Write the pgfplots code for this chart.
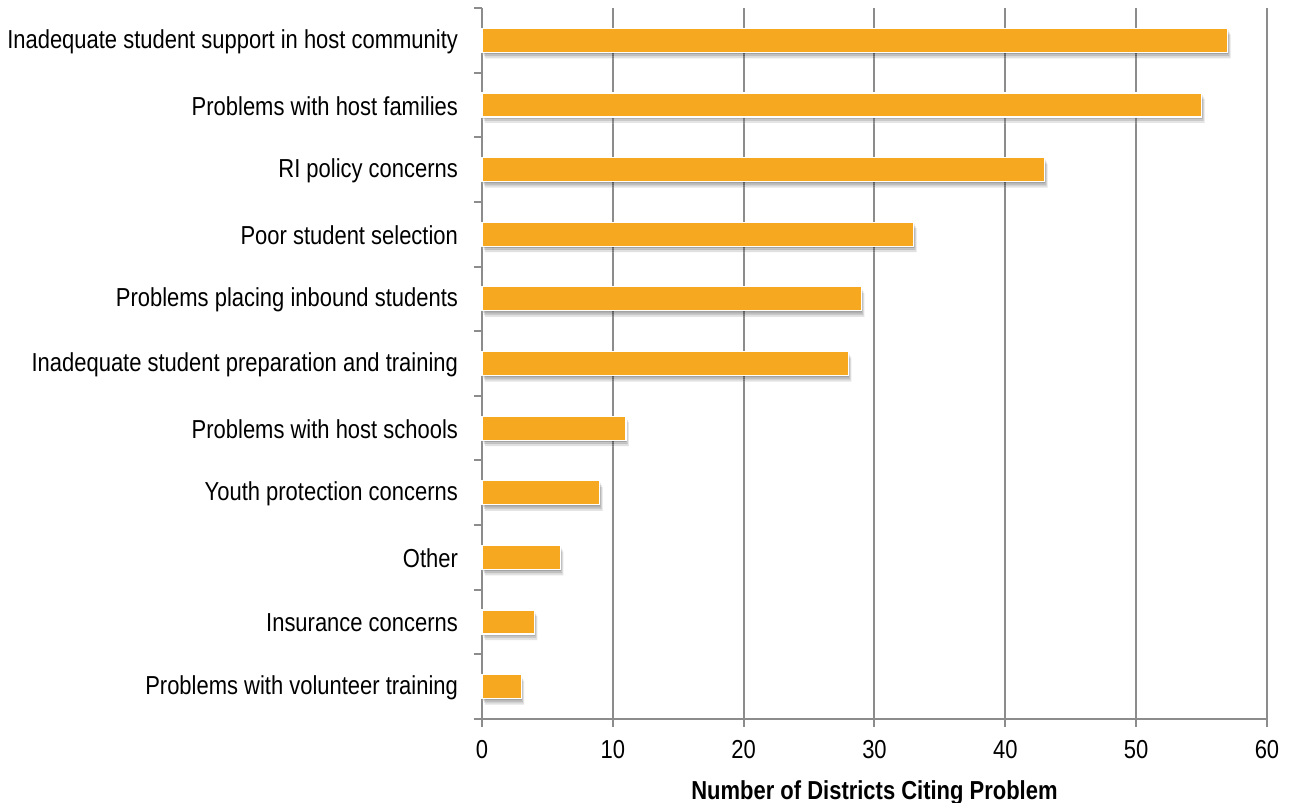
\documentclass[border=0pt]{standalone}
\usepackage{pgfplots}
\pgfplotsset{compat=1.18}
\usepackage{fontspec}
\setmainfont[FakeStretch=0.845]{Liberation Sans}
\usetikzlibrary{shadows}
\definecolor{barorange}{RGB}{245,168,32}
\definecolor{gridgray}{RGB}{140,140,140}
\begin{document}
\begin{tikzpicture}
\begin{axis}[
  at={(0,0)}, anchor=south west,
  scale only axis,
  width=392.5pt, height=355.5pt,
  xmin=0, xmax=60,
  ymin=-0.5, ymax=10.5,
  y dir=reverse,
  xbar, bar width=12pt,
  axis x line*=bottom, axis y line*=left,
  axis line style={gridgray, line width=1pt},
  xtick={0,10,...,60},
  xmajorgrids, grid style={gridgray, line width=1pt},
  tick align=outside,
  major tick length=4pt,
  xtick style={gridgray, line width=1pt},
  ytick={0,...,10},
  yticklabels={Inadequate student support in host community,
    Problems with host families,
    RI policy concerns,
    Poor student selection,
    Problems placing inbound students,
    Inadequate student preparation and training,
    Problems with host schools,
    Youth protection concerns,
    Other,
    Insurance concerns,
    Problems with volunteer training},
  ytick style={draw=none},
  extra y ticks={-0.5,0.5,...,10.5},
  extra y tick labels={},
  extra y tick style={ytick style={draw=gridgray, line width=1pt}},
  tick label style={font=\fontsize{13}{15}\selectfont},
  yticklabel style={xshift=-4.5pt, yshift=-0.5pt},
  xticklabel style={yshift=-3pt},
  /pgf/number format/assume math mode=true,
  xlabel={\textbf{Number of Districts Citing Problem}},
  xlabel style={font=\fontsize{13}{15}\selectfont, yshift=-4pt},
  clip=false,
]
% soft shadow under each bar, built from a few offset layers
\addplot[fill=barorange, draw=white, line width=0.6pt,
  drop shadow={shadow xshift=1.5pt, shadow yshift=-3pt, opacity=0.12, fill=black},
  drop shadow={shadow xshift=1pt, shadow yshift=-2pt, opacity=0.15, fill=black},
  drop shadow={shadow xshift=0.5pt, shadow yshift=-1pt, opacity=0.15, fill=black}]
  coordinates {(57,0) (55,1) (43,2) (33,3) (29,4) (28,5) (11,6) (9,7) (6,8) (4,9) (3,10)};
\end{axis}
\pgfresetboundingbox
\path (-241pt,-42pt) rectangle (404.5pt,359.5pt);
\end{tikzpicture}
\end{document}
